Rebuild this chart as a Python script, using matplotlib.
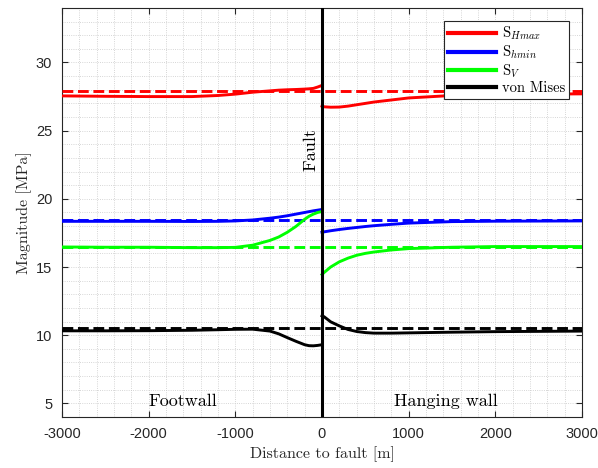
import matplotlib
matplotlib.use("Agg")
import matplotlib.pyplot as plt
from matplotlib.ticker import MultipleLocator

plt.rcParams["mathtext.fontset"] = "cm"
plt.rcParams["axes.unicode_minus"] = False

# Footwall side (x <= 0) and hanging-wall side (x >= 0), distances in m
x_fw = [-3000, -2500, -2000, -1500, -1200, -1000, -800, -600, -500, -400,
        -300, -200, -150, -100, -50, 0]
x_hw = [0, 25, 100, 200, 300, 400, 500, 600, 800, 1000, 1500, 2000, 2500, 3000]

# Solid curves, footwall [MPa]
shmax_fw = [27.55, 27.52, 27.5, 27.5, 27.58, 27.68, 27.82, 27.92, 27.97, 28.0,
            28.02, 28.05, 28.07, 28.1, 28.2, 28.32]
shmin_fw = [18.35, 18.35, 18.35, 18.34, 18.35, 18.38, 18.45, 18.58, 18.66, 18.76,
            18.88, 19.0, 19.06, 19.12, 19.17, 19.22]
sv_fw = [16.47, 16.45, 16.45, 16.42, 16.42, 16.44, 16.6, 16.95, 17.2, 17.55,
         17.98, 18.5, 18.72, 18.88, 19.0, 19.07]
vm_fw = [10.32, 10.32, 10.33, 10.36, 10.4, 10.43, 10.44, 10.3, 10.1, 9.82,
         9.55, 9.3, 9.23, 9.22, 9.25, 9.3]

# Solid curves, hanging wall [MPa]
shmax_hw = [26.8, 26.75, 26.72, 26.73, 26.8, 26.9, 27.0, 27.1, 27.25, 27.4,
            27.58, 27.65, 27.68, 27.7]
shmin_hw = [17.55, 17.58, 17.66, 17.75, 17.83, 17.9, 17.97, 18.03, 18.13, 18.22,
            18.33, 18.36, 18.37, 18.38]
sv_hw = [14.45, 14.6, 15.0, 15.38, 15.65, 15.86, 16.0, 16.1, 16.25, 16.35,
         16.45, 16.5, 16.5, 16.5]
vm_hw = [11.42, 11.35, 10.98, 10.68, 10.42, 10.27, 10.19, 10.15, 10.15, 10.17,
         10.22, 10.26, 10.28, 10.3]

# Dashed reference levels [MPa]
x_ref = [-3000, 3000]
shmax_ref = 27.9
shmin_ref = 18.45
sv_ref = 16.5
vm_ref = 10.55

labels = [r"S$_{Hmax}$", r"S$_{hmin}$", r"S$_{V}$", "von Mises"]
colors = ["#ff0000", "#0000ff", "#00ff00", "#000000"]

fig = plt.figure(figsize=(5.98, 4.68), dpi=100)
ax = fig.add_axes([0.1037, 0.109, 0.8695, 0.874])

series = [
    (shmax_fw, shmax_hw, shmax_ref),
    (shmin_fw, shmin_hw, shmin_ref),
    (sv_fw, sv_hw, sv_ref),
    (vm_fw, vm_hw, vm_ref),
]
for (fw, hw, ref), c, lab in zip(series, colors, labels):
    ax.plot(x_fw, fw, color=c, lw=2.1, label=lab, zorder=3)
    ax.plot(x_hw, hw, color=c, lw=2.1, zorder=3)
    ax.plot(x_ref, [ref, ref], color=c, lw=2.1, ls="--", zorder=3)

ax.axvline(0, color="black", lw=2.2, zorder=4)

ax.set_xlim(-3000, 3000)
ax.set_ylim(4, 34)
ax.xaxis.set_major_locator(MultipleLocator(1000))
ax.yaxis.set_major_locator(MultipleLocator(5))
ax.xaxis.set_minor_locator(MultipleLocator(200))
ax.yaxis.set_minor_locator(MultipleLocator(1))
# dotted grid everywhere (minor-grid look)
ax.grid(which="both", color="#c8c8c8", lw=0.6, ls=":")
ax.set_axisbelow(True)

ax.tick_params(which="major", direction="in", top=True, right=True,
               length=4, width=0.8, colors="#262626", pad=7,
               labelsize=10.5, labelcolor="#262626")
ax.tick_params(which="minor", length=0, top=True, right=True)
for lbl in ax.get_xticklabels() + ax.get_yticklabels():
    lbl.set_fontfamily("Liberation Sans")
for sp in ax.spines.values():
    sp.set_color("#262626")
    sp.set_linewidth(0.8)

ax.set_xlabel("Distance to fault [m]", fontfamily="cmr10", fontsize=11.5,
              color="#262626", labelpad=4)
ax.set_ylabel("Magnitude [MPa]", fontfamily="cmr10", fontsize=11.5,
              color="#262626", labelpad=3)

ax.text(-40, 23.6, "Fault", rotation=90, ha="right", va="center",
        fontfamily="cmr10", fontsize=13)
ax.text(-1600, 4.6, "Footwall", ha="center", va="bottom",
        fontfamily="cmr10", fontsize=13)
ax.text(1430, 4.6, "Hanging wall", ha="center", va="bottom",
        fontfamily="cmr10", fontsize=13)

leg = ax.legend(loc="upper right", prop={"family": "cmr10", "size": 10.5},
                handlelength=3.3, borderaxespad=0.9, fancybox=False,
                framealpha=1, edgecolor="#262626", borderpad=0.25,
                labelspacing=0.1, handletextpad=0.4)
leg.get_frame().set_linewidth(0.8)
for h in leg.get_lines():
    h.set_linewidth(3)

fig.savefig("out.png", dpi=100)
